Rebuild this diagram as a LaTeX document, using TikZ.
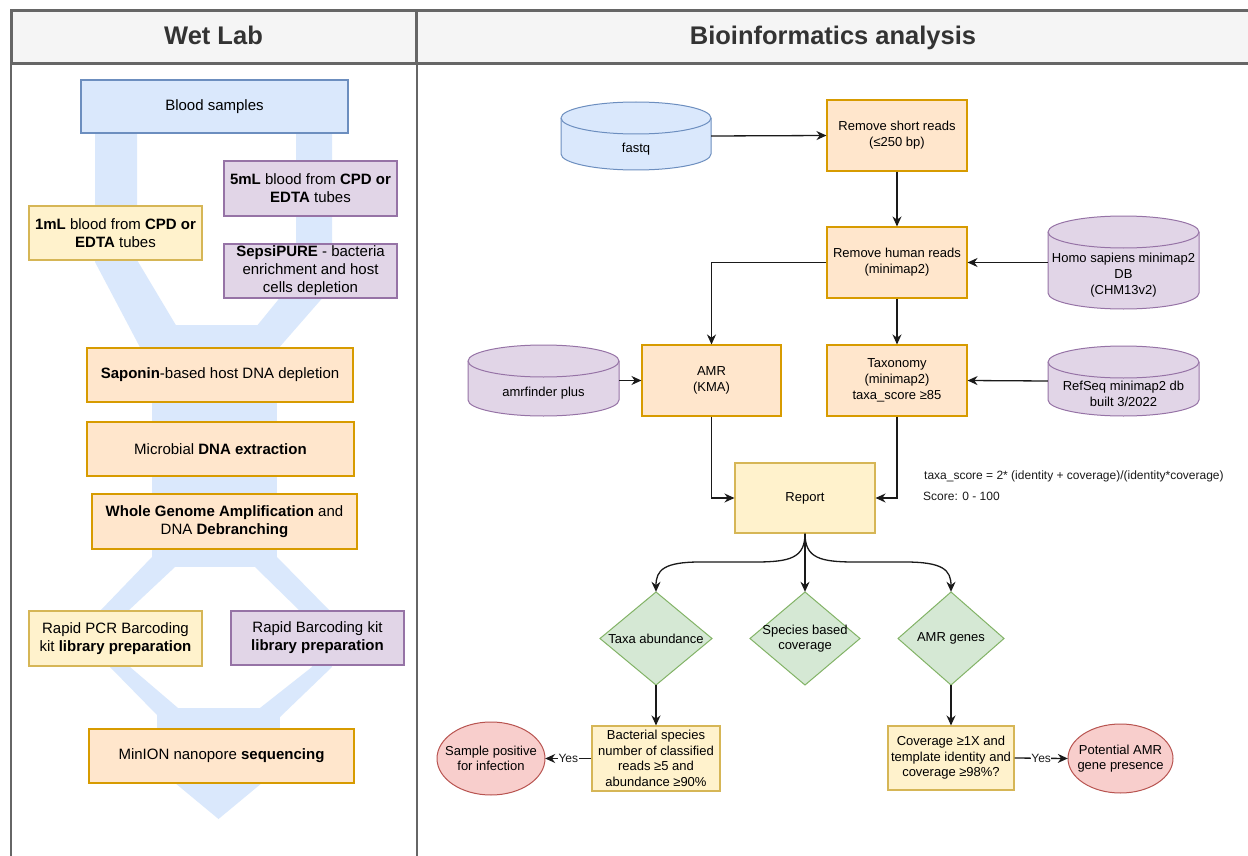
\documentclass[tikz,border=0pt]{standalone}
\usepackage{fontspec}
\setmainfont{Liberation Sans}
\usetikzlibrary{arrows.meta,calc}
\definecolor{blueF}{HTML}{DAE8FC}\definecolor{blueD}{HTML}{6C8EBF}
\definecolor{purF}{HTML}{E1D5E7}\definecolor{purD}{HTML}{9673A6}
\definecolor{yelF}{HTML}{FFF2CC}\definecolor{yelD}{HTML}{D6B656}
\definecolor{orF}{HTML}{FFE6CC}\definecolor{orD}{HTML}{D79B00}
\definecolor{grF}{HTML}{D5E8D4}\definecolor{grD}{HTML}{82B366}
\definecolor{redF}{HTML}{F8CECC}\definecolor{redD}{HTML}{B85450}
\definecolor{hdrF}{HTML}{F5F5F5}\definecolor{hdrD}{HTML}{666666}
\definecolor{hdrT}{HTML}{333333}
\definecolor{lineC}{HTML}{1A1A1A}
\newcommand{\dbcyl}[7]{%
\pgfmathsetmacro{\cyA}{(#4-#2)/2}%
\pgfmathsetmacro{\cyW}{#4-#2}%
\pgfmathsetmacro{\cyH}{#5-#3}%
\pgfmathsetmacro{\cyC}{(#2+#4)/2}%
\pgfmathsetmacro{\cyM}{(#3+#5)/2}%
\filldraw[#6, line width=1pt] (#2,-#3-16) -- (#2,-#5+16) arc[start angle=180,end angle=360,x radius=\cyA pt,y radius=16pt] -- (#4,-#3-16) arc[start angle=0,end angle=180,x radius=\cyA pt,y radius=16pt] -- cycle;
\draw[#6, line width=1pt] (#2,-#3-16) arc[start angle=180,end angle=360,x radius=\cyA pt,y radius=16pt];
\node[draw=none, inner sep=0pt, minimum width=\cyW pt, minimum height=\cyH pt] (#1) at (\cyC,-\cyM) {};
\node[rtext] at (\cyC,-\cyM-13) {#7};
}
\begin{document}
\begin{tikzpicture}[x=1pt,y=1pt,
  box/.style={draw, line width=1.1pt, inner sep=0pt, align=center, text=black, font=\fontsize{13}{16}\selectfont},
  wl/.style={font=\fontsize{15}{18}\selectfont},
  rtext/.style={align=center, inner sep=0pt, text=black, font=\fontsize{13}{16}\selectfont},
  blu/.style={fill=blueF, draw=blueD},
  pur/.style={fill=purF, draw=purD},
  yel/.style={fill=yelF, draw=yelD},
  ora/.style={fill=orF, draw=orD},
  anch/.style={draw=none, inner sep=0pt, align=center, text=black, font=\fontsize{13}{15.5}\selectfont},
  hdr/.style={font=\fontsize{25.5}{30}\selectfont\bfseries, text=hdrT, anchor=base, inner sep=0pt},
  conn/.style={line width=1.3pt, draw=lineC, -{Stealth[length=10pt,width=9pt]}},
  lbl/.style={fill=white, inner sep=0.5pt, font=\fontsize{12}{14}\selectfont, text=lineC},
  band/.style={fill=blueF}
]
\useasboundingbox (0,0) rectangle (1248,-856);
\clip (0,0) rectangle (1248,-856);
\fill[white] (0,0) rectangle (1248,-856);

% ---------- header and panel lines
\filldraw[fill=hdrF, draw=hdrD, line width=3pt] (11,-11) rectangle (1260,-64);
\draw[hdrD, line width=3pt] (416.5,-11) -- (416.5,-64);
\draw[hdrD, line width=2pt] (11,-64) -- (11,-870);
\draw[hdrD, line width=2pt] (416.5,-64) -- (416.5,-870);
\node[hdr] (hwl) at (213.5,-45) {Wet Lab};
\node[hdr] (hbi) at (833,-45) {Bioinformatics analysis};

% ---------- flow bands (wet lab)
\fill[band] (95,-133) -- (137,-133) -- (137,-260) -- (177,-327) -- (152,-370) -- (95,-262) -- cycle;
\fill[band] (296,-133) -- (332,-133) -- (332,-287) -- (277,-350) -- (256,-327) -- (296,-278) -- cycle;
\fill[band] (152,-325) rectangle (277,-567);
\fill[band] (152,-557) -- (175,-567) -- (128,-611) -- (130,-667) -- (178,-708) -- (157,-715) -- (110,-667) -- (100,-611) -- cycle;
\fill[band] (277,-557) -- (255,-567) -- (300,-611) -- (312,-667) -- (260,-708) -- (280,-717) -- (332,-667) -- (330,-611) -- cycle;
\fill[band] (157,-708) rectangle (280,-768);
\fill[band] (157,-768) -- (280,-768) -- (218.5,-819) -- cycle;

% ---------- wet lab boxes
\node[box, wl, blu, minimum width=267pt, minimum height=53pt] (blood) at (214.5,-106.5) {Blood samples};
\node[box, wl, pur, minimum width=173pt, minimum height=55pt] (ml5) at (310.5,-188.5) {\textbf{5mL} blood from \textbf{CPD or}\\\textbf{EDTA} tubes};
\node[box, wl, yel, minimum width=173pt, minimum height=54pt] (ml1) at (115.5,-233) {\textbf{1mL} blood from \textbf{CPD or}\\\textbf{EDTA} tubes};
\node[box, wl, pur, minimum width=173pt, minimum height=54pt] (sepsi) at (310.5,-271) {\textbf{SepsiPURE} - bacteria\\enrichment and host\\cells depletion};
\node[box, wl, ora, minimum width=266pt, minimum height=54pt] (sap) at (220,-375) {\textbf{Saponin}-based host DNA depletion};
\node[box, wl, ora, minimum width=267pt, minimum height=54pt] (dna) at (220.5,-449) {Microbial \textbf{DNA extraction}};
\node[box, wl, ora, minimum width=265pt, minimum height=55pt] (wga) at (224.5,-521.5) {\textbf{Whole Genome Amplification} and\\DNA \textbf{Debranching}};
\node[box, wl, yel, minimum width=173pt, minimum height=55pt] (pcr) at (115.5,-638.5) {Rapid PCR Barcoding\\kit \textbf{library preparation}};
\node[box, wl, pur, minimum width=173pt, minimum height=54pt] (rbk) at (317.5,-638) {Rapid Barcoding kit\\\textbf{library preparation}};
\node[box, wl, ora, minimum width=265pt, minimum height=54pt] (minion) at (221.5,-756) {MinION nanopore \textbf{sequencing}};

% ---------- bioinformatics
\dbcyl{fastq}{561}{102}{711}{170}{fill=blueF, draw=blueD}{fastq}
\dbcyl{homo}{1048}{216}{1199}{309}{fill=purF, draw=purD}{Homo sapiens minimap2\\DB\\(CHM13v2)}
\dbcyl{amrf}{468}{345}{619}{416}{fill=purF, draw=purD}{amrfinder plus}
\dbcyl{refseq}{1048}{346}{1199}{416}{fill=purF, draw=purD}{RefSeq minimap2 db\\built 3/2022}

\node[box, ora, minimum width=140pt, minimum height=71pt] (rsr) at (897,-135.5) {Remove short reads\\(≤250 bp)};
\node[box, ora, minimum width=140pt, minimum height=71pt] (rhr) at (897,-262.5) {Remove human reads\\(minimap2)};
\node[box, ora, minimum width=139pt, minimum height=71pt] (amr) at (711.5,-380.5) {AMR\\(KMA)};
\node[box, ora, minimum width=140pt, minimum height=71pt] (tax) at (897,-380.5) {Taxonomy\\(minimap2)\\taxa\_score ≥85};
\node[box, yel, minimum width=140pt, minimum height=70pt] (rep) at (805,-498) {Report};

\node[anchor=base west, inner sep=0pt, font=\fontsize{12}{14}\selectfont, text=lineC] (formula) at (924,-479) {taxa\_score = 2* (identity + coverage)/(identity*coverage)};
\node[anchor=base west, inner sep=0pt, font=\fontsize{12}{14}\selectfont, text=lineC] (score) at (923,-500) {Score: 0 - 100};

% diamonds
\filldraw[fill=grF, draw=grD, line width=1pt] (656,-592) -- (712,-638.5) -- (656,-685) -- (600,-638.5) -- cycle;
\node[anch, minimum width=112pt, minimum height=93pt] (ta) at (656,-638.5) {Taxa abundance};
\filldraw[fill=grF, draw=grD, line width=1pt] (805,-592) -- (860,-638.5) -- (805,-685) -- (750,-638.5) -- cycle;
\node[anch, minimum width=110pt, minimum height=93pt] (sbc) at (805,-638.5) {Species based\\coverage};
\filldraw[fill=grF, draw=grD, line width=1pt] (951,-592) -- (1004,-638.5) -- (951,-685) -- (898,-638.5) -- cycle;
\node[anch, minimum width=106pt, minimum height=93pt] (amg) at (951,-638.5) {AMR genes};

\node[box, yel, minimum width=128pt, minimum height=65pt, font=\fontsize{13}{15.5}\selectfont] (bac) at (656,-758.5) {Bacterial species\\number of classified\\reads ≥5 and\\abundance ≥90\%};
\node[box, yel, minimum width=126pt, minimum height=64pt, font=\fontsize{13}{15.5}\selectfont] (cov) at (951,-758) {Coverage ≥1X and\\template identity and\\coverage ≥98\%?};

\filldraw[fill=redF, draw=redD, line width=1pt] (491,-758.5) ellipse [x radius=54pt, y radius=36.5pt];
\node[anch, minimum width=108pt, minimum height=73pt] (sp) at (491,-758.5) {Sample positive\\for infection};
\filldraw[fill=redF, draw=redD, line width=1pt] (1120.5,-758.5) ellipse [x radius=52.5pt, y radius=34.5pt];
\node[anch, minimum width=105pt, minimum height=69pt] (pam) at (1120.5,-758.5) {Potential AMR\\gene presence};

% ---------- connectors
\draw[conn] (fastq.east) -- (rsr.west);
\draw[conn] (rsr.south) -- (rhr.north);
\draw[conn] (homo.west) -- (rhr.east);
\draw[conn] (rhr.west) -| (amr.north);
\draw[conn] (rhr.south) -- (tax.north);
\draw[conn] (amrf.east) -- (amr.west);
\draw[conn] (refseq.west) -- (tax.east);
\draw[conn] (amr.south) |- (rep.west);
\draw[conn] (tax.south) |- (rep.east);
\draw[conn] (rep.south) .. controls (805,-558) and (790,-562) .. (755,-562) -- (700,-562) .. controls (664,-562) and (656,-570) .. (ta.north);
\draw[conn] (rep.south) -- (sbc.north);
\draw[conn] (rep.south) .. controls (805,-558) and (820,-562) .. (855,-562) -- (905,-562) .. controls (943,-562) and (951,-570) .. (amg.north);
\draw[conn] (ta.south) -- (bac.north);
\draw[conn] (amg.south) -- (cov.north);
\draw[conn] (bac.west) -- node[lbl] {Yes} (sp.east);
\draw[conn] (cov.east) -- node[lbl] {Yes} (pam.west);
\end{tikzpicture}
\end{document}
